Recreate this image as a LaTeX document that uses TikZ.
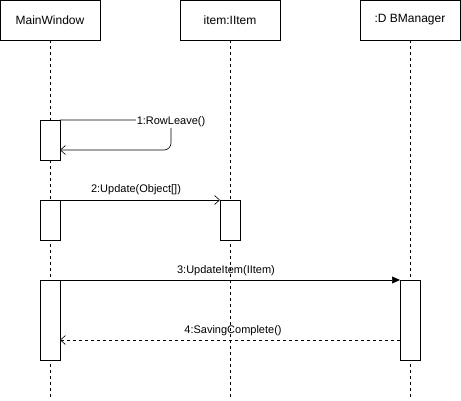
\documentclass[tikz,border=0pt]{standalone}
\usepackage{fontspec}
\setmainfont{Liberation Sans}
\usetikzlibrary{arrows.meta}
\begin{document}
\begin{tikzpicture}[x=1pt,y=-1pt,
  head/.style={draw,line width=0.8pt,minimum width=100pt,minimum height=40pt,inner sep=0pt,font=\fontsize{12}{13}\selectfont},
  life/.style={dash pattern=on 3pt off 3pt,line width=0.6pt},
  act/.style={draw,fill=white,line width=0.8pt},
  msg/.style={line width=0.6pt},
  txt/.style={font=\fontsize{11}{12}\selectfont,inner sep=1pt},
  lbl/.style={txt,fill=white},
  open/.style={-{Straight Barb[length=5pt,width=9pt]}},
  filled/.style={-{Triangle[length=8pt,width=7pt]}}]
\useasboundingbox (0,0) rectangle (461,401);
\node[head] (mw) at (50,20) {MainWindow};
\node[head] (it) at (230,20) {item:IItem};
\node[head] (db) at (410,20) {:D BManager};
\coordinate (mwe) at (50,400);
\coordinate (ite) at (230,400);
\coordinate (dbe) at (410,400);
\draw[life] (mw.south) -- (mwe);
\draw[life] (it.south) -- (ite);
\draw[life] (db.south) -- (dbe);
% activations
\draw[act] (40,120) rectangle (60,160);
\draw[act] (40,200) rectangle (60,240);
\draw[act] (40,280) rectangle (60,360);
\draw[act] (220,200) rectangle (240,240);
\draw[act] (400,280) rectangle (420,360);
\coordinate (a1t) at (60,120);
\coordinate (a1b) at (60,150);
\coordinate (a2) at (60,200);
\coordinate (b2) at (220,200);
\coordinate (a3) at (60,280);
\coordinate (b3) at (400,280);
\coordinate (a4) at (60,340);
\coordinate (b4) at (400,340);
% message 1 (self)
\draw[msg,open] (a1t) -- (171,120) -- (171,143) arc[start angle=0,end angle=90,radius=7] -- (a1b);
\node[lbl] (l1) at (171,122) {1:RowLeave()};
% message 2
\draw[msg,open] (a2) -- (b2);
\node[txt] (l2) at (136,190) {2:Update(Object[])};
% message 3
\draw[msg,filled] (a3) -- (b3);
\node[txt] (l3) at (226,271) {3:UpdateItem(IItem)};
% message 4
\draw[msg,open,dashed] (b4) -- (a4);
\node[txt] (l4) at (233,331) {4:SavingComplete()};
\end{tikzpicture}
\end{document}
